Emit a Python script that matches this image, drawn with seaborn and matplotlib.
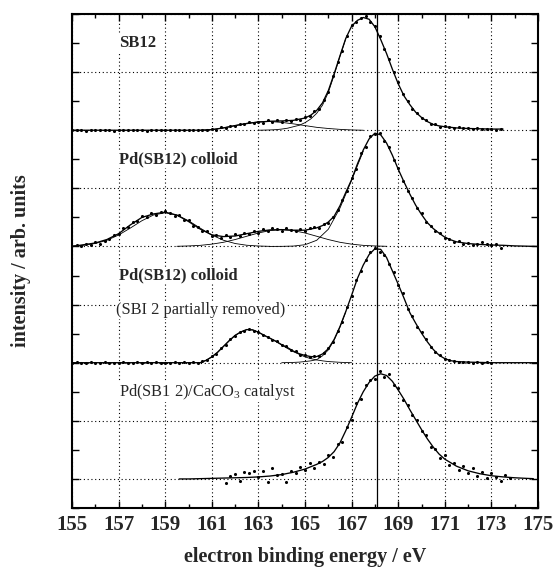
import numpy as np
import pandas as pd
import matplotlib
matplotlib.use("Agg")
import matplotlib.pyplot as plt
from matplotlib.ticker import FixedLocator, NullFormatter
import seaborn as sns

# ---------------- data ----------------
x_ticks = [155, 157, 159, 161, 163, 165, 167, 169, 171, 173, 175]
x_tick_labels = ["155", "157", "159", "161", "163", "165", "167", "169", "171", "173", "175"]
x_minor = [156, 158, 160, 162, 164, 166, 168, 170, 172, 174]
ref_line_x = 168.1

panel_offsets = [6, 4, 2, 0]
panel_labels = ["SB12", "Pd(SB12) colloid", "Pd(SB12) colloid",
                "Pd(SB1 2)/CaCO$_\\mathrm{3}$ catalyst"]
panel_label_bold = [True, True, True, False]
panel_label_y = [7.5, 5.5, 3.5, 1.5]
sub_label = "(SBI 2 partially removed)"
sub_label_y = 2.9
label_x = 157.0

point_step = 0.2
# --- panel 1 : SB12 ---
p1_start = 155.0
p1_points = [0.00, 0.01, 0.00, -0.01, 0.01,
             0.00, 0.01, 0.00, 0.00, -0.01,
             0.01, 0.00, 0.01, 0.00, 0.00,
             0.01, -0.01, 0.00, 0.01, 0.00,
             0.00, 0.01, 0.00, 0.01, 0.00,
             0.00, 0.01, 0.00, 0.01, 0.00,
             0.02, 0.01, 0.05, 0.04, 0.08,
             0.07, 0.11, 0.10, 0.14, 0.12,
             0.15, 0.13, 0.17, 0.15, 0.17,
             0.14, 0.18, 0.16, 0.19, 0.18,
             0.22, 0.24, 0.33, 0.36, 0.52,
             0.66, 0.93, 1.18, 1.37, 1.62,
             1.81, 1.86, 1.93, 1.96, 1.87,
             1.79, 1.62, 1.40, 1.23, 1.00,
             0.83, 0.62, 0.51, 0.37, 0.30,
             0.21, 0.17, 0.11, 0.10, 0.06,
             0.07, 0.05, 0.04, 0.05, 0.03,
             0.03, 0.02, 0.03, 0.02, 0.02,
             0.02, 0.01, 0.02]
p1_fit_x = [155.0, 160.5, 161.0, 161.5, 162.0, 162.5, 163.0, 163.5, 164.0, 164.5, 165.0,
            165.25, 165.5, 165.75, 166.0, 166.25, 166.5, 166.75, 167.0, 167.25, 167.5,
            167.75, 168.0, 168.25, 168.5, 168.75, 169.0, 169.25, 169.5, 169.75, 170.0,
            170.25, 170.5, 170.75, 171.0, 171.5, 172.0, 172.5, 173.0, 173.5]
p1_fit_y = [0.0, 0.0, 0.01, 0.04, 0.08, 0.115, 0.14, 0.155, 0.16, 0.17, 0.21,
            0.26, 0.34, 0.47, 0.68, 0.97, 1.28, 1.58, 1.79, 1.89, 1.94,
            1.91, 1.78, 1.56, 1.32, 1.05, 0.80, 0.59, 0.44, 0.31, 0.22,
            0.15, 0.10, 0.075, 0.06, 0.04, 0.03, 0.025, 0.02, 0.02]
p1_c1_x = [160.5, 161.0, 161.5, 162.0, 162.5, 163.0, 163.5, 164.0, 164.5, 165.0,
           165.5, 166.0, 166.5, 167.0, 167.5]
p1_c1_y = [0.0, 0.01, 0.04, 0.08, 0.12, 0.145, 0.15, 0.135, 0.11, 0.08,
           0.05, 0.03, 0.015, 0.005, 0.0]
p1_c2_x = [163.0, 163.5, 163.75, 164.0, 164.25, 164.5, 164.75, 165.0, 165.25, 165.5,
           165.75, 166.0, 166.25, 166.5, 166.75]
p1_c2_y = [0.0, 0.005, 0.01, 0.02, 0.035, 0.06, 0.085, 0.13, 0.195, 0.29,
           0.43, 0.65, 0.95, 1.27, 1.575]

# --- panel 2 : Pd(SB12) colloid ---
p2_start = 155.2
p2_points = [0.03, 0.00, 0.04, 0.02,
             0.07, 0.05, 0.10, 0.13, 0.19,
             0.21, 0.31, 0.33, 0.42, 0.44,
             0.52, 0.51, 0.57, 0.55, 0.60,
             0.61, 0.57, 0.53, 0.54, 0.46,
             0.45, 0.36, 0.34, 0.26, 0.27,
             0.18, 0.20, 0.15, 0.19, 0.16,
             0.21, 0.18, 0.23, 0.21, 0.26,
             0.24, 0.30, 0.26, 0.31, 0.30,
             0.27, 0.31, 0.28, 0.26, 0.30,
             0.27, 0.31, 0.33, 0.31, 0.38,
             0.41, 0.51, 0.63, 0.80, 0.96,
             1.18, 1.34, 1.60, 1.72, 1.90,
             1.93, 1.96, 1.82, 1.71, 1.49,
             1.35, 1.13, 0.96, 0.84, 0.66,
             0.57, 0.42, 0.36, 0.26, 0.23,
             0.14, 0.13, 0.08, 0.09, 0.05,
             0.06, 0.03, 0.05, 0.07, 0.04,
             0.03, 0.05, -0.02]
p2_fit_x = [155.0, 155.5, 156.0, 156.5, 157.0, 157.5, 158.0, 158.5, 159.0, 159.5, 160.0,
            160.5, 161.0, 161.5, 162.0, 162.5, 163.0, 163.5, 164.0, 164.5, 165.0, 165.5,
            165.75, 166.0, 166.25, 166.5, 166.75, 167.0, 167.25, 167.5, 167.75, 168.0,
            168.25, 168.5, 168.75, 169.0, 169.25, 169.5, 169.75, 170.0, 170.25, 170.5,
            170.75, 171.0, 171.25, 171.5, 172.0, 172.5, 173.0, 173.5, 174.0, 175.0]
p2_fit_y = [0.0, 0.03, 0.06, 0.12, 0.22, 0.37, 0.50, 0.56, 0.59, 0.54, 0.43,
            0.30, 0.20, 0.17, 0.18, 0.22, 0.26, 0.285, 0.29, 0.28, 0.28, 0.32,
            0.36, 0.42, 0.52, 0.70, 0.93, 1.15, 1.42, 1.66, 1.85, 1.95,
            1.92, 1.78, 1.57, 1.33, 1.11, 0.90, 0.71, 0.55, 0.41, 0.31,
            0.23, 0.16, 0.115, 0.08, 0.05, 0.035, 0.025, 0.02, 0.01, 0.0]
p2_c1_x = [155.0, 155.5, 156.0, 156.5, 157.0, 157.5, 158.0, 158.5, 159.0,
           159.5, 160.0, 160.5, 161.0, 161.5, 162.0, 162.5, 163.0, 163.5]
p2_c1_y = [0.008, 0.021, 0.051, 0.107, 0.197, 0.316, 0.443, 0.542, 0.58,
           0.542, 0.443, 0.316, 0.197, 0.107, 0.051, 0.021, 0.008, 0.002]
p2_c2_x = [159.5, 160.0, 160.5, 161.0, 161.5, 162.0, 162.5, 163.0, 163.5, 164.0,
           164.5, 165.0, 165.5, 166.0, 166.5, 167.0, 167.5, 168.0, 168.5]
p2_c2_y = [0.003, 0.009, 0.019, 0.040, 0.072, 0.119, 0.176, 0.232, 0.274, 0.29,
           0.274, 0.232, 0.176, 0.119, 0.072, 0.040, 0.019, 0.009, 0.003]
p2_c3_x = [163.5, 164.0, 164.5, 165.0, 165.5, 166.0, 166.5, 167.0, 167.5]
p2_c3_y = [0.001, 0.002, 0.007, 0.03, 0.106, 0.296, 0.66, 1.14, 1.64]

# --- panel 3 : Pd(SB12) colloid, SB12 partially removed ---
p3_start = 155.0
p3_points = [0.00, 0.01, 0.00, 0.00, 0.01,
             0.00, 0.00, 0.01, 0.00, -0.01,
             0.00, 0.01, 0.00, 0.00, 0.01,
             0.00, 0.01, 0.00, 0.01, 0.00,
             0.00, 0.00, 0.01, 0.00, 0.01,
             0.00, 0.01, 0.00, 0.03, 0.05,
             0.11, 0.15, 0.26, 0.31, 0.41,
             0.46, 0.53, 0.54, 0.58, 0.55,
             0.53, 0.47, 0.45, 0.39, 0.37,
             0.30, 0.28, 0.22, 0.20, 0.14,
             0.13, 0.10, 0.11, 0.12, 0.16,
             0.25, 0.36, 0.55, 0.70, 0.95,
             1.14, 1.42, 1.57, 1.77, 1.90,
             1.97, 1.90, 1.86, 1.69, 1.56,
             1.33, 1.20, 0.93, 0.80, 0.62,
             0.52, 0.40, 0.27, 0.19, 0.13,
             0.07, 0.05, 0.03, 0.02, 0.01,
             0.02, 0.00, 0.01, 0.00, 0.01,
             0.00]
p3_fit_x = [155.0, 160.5, 160.75, 161.0, 161.25, 161.5, 161.75, 162.0, 162.25, 162.5,
            162.75, 163.0, 163.25, 163.5, 163.75, 164.0, 164.25, 164.5, 164.75, 165.0,
            165.25, 165.5, 165.75, 166.0, 166.25, 166.5, 166.75, 167.0, 167.25, 167.5,
            167.75, 168.0, 168.25, 168.5, 168.75, 169.0, 169.25, 169.5, 169.75, 170.0,
            170.25, 170.5, 170.75, 171.0, 171.25, 171.5, 172.0, 172.5, 173.0, 175.0]
p3_fit_y = [0.0, 0.0, 0.04, 0.10, 0.18, 0.28, 0.38, 0.47, 0.53, 0.57,
            0.565, 0.525, 0.47, 0.42, 0.37, 0.31, 0.26, 0.20, 0.155, 0.125,
            0.105, 0.105, 0.15, 0.24, 0.40, 0.62, 0.88, 1.16, 1.45, 1.68,
            1.86, 1.96, 1.95, 1.81, 1.58, 1.35, 1.11, 0.86, 0.68, 0.51,
            0.36, 0.23, 0.13, 0.07, 0.035, 0.02, 0.01, 0.005, 0.0, 0.0]
p3_c1_x = [160.5, 160.75, 161.0, 161.25, 161.5, 161.75, 162.0, 162.25, 162.5, 162.75,
           163.0, 163.25, 163.5, 163.75, 164.0, 164.25, 164.5, 164.75, 165.0, 165.25,
           165.5, 165.75, 166.0, 166.5, 167.0]
p3_c1_y = [0.0, 0.04, 0.10, 0.18, 0.28, 0.38, 0.47, 0.53, 0.57, 0.565,
           0.525, 0.47, 0.42, 0.365, 0.305, 0.245, 0.19, 0.145, 0.10, 0.07,
           0.048, 0.032, 0.02, 0.007, 0.0]
p3_c2_x = [164.0, 164.5, 164.75, 165.0, 165.25, 165.5, 165.75, 166.0, 166.25, 166.5, 166.75]
p3_c2_y = [0.0, 0.005, 0.01, 0.02, 0.032, 0.052, 0.118, 0.22, 0.388, 0.613, 0.875]

# --- panel 4 : Pd(SB12)/CaCO3 catalyst ---
p4_start = 161.6
p4_points = [-0.07, 0.05,
             0.09, -0.04, 0.12, 0.10, 0.14,
             0.03, 0.13, -0.05, 0.18, 0.06,
             0.09, -0.05, 0.14, 0.10, 0.20,
             0.15, 0.27, 0.18, 0.30, 0.26,
             0.42, 0.38, 0.60, 0.63, 0.90,
             1.02, 1.30, 1.38, 1.62, 1.70,
             1.72, 1.85, 1.76, 1.80, 1.62,
             1.56, 1.36, 1.27, 1.10, 1.02,
             0.82, 0.75, 0.55, 0.52, 0.36,
             0.41, 0.24, 0.28, 0.15, 0.22,
             0.10, 0.18, 0.05, 0.12, 0.02,
             0.10, 0.04, -0.03, 0.06, 0.01]
p4_fit_x = [159.6, 160.0, 160.5, 161.0, 161.5, 162.0, 162.5, 163.0, 163.5, 164.0,
            164.5, 165.0, 165.5, 165.75, 166.0, 166.25, 166.5, 166.75, 167.0, 167.25,
            167.5, 167.75, 168.0, 168.25, 168.5, 168.75, 169.0, 169.25, 169.5, 169.75,
            170.0, 170.25, 170.5, 170.75, 171.0, 171.5, 172.0, 172.5, 173.0, 173.5,
            174.0, 174.5, 174.8]
p4_fit_y = [0.0, 0.0, 0.005, 0.01, 0.015, 0.02, 0.025, 0.035, 0.05, 0.075,
            0.115, 0.17, 0.25, 0.30, 0.37, 0.47, 0.62, 0.83, 1.06, 1.30,
            1.50, 1.66, 1.77, 1.81, 1.78, 1.68, 1.53, 1.37, 1.19, 1.02,
            0.85, 0.69, 0.55, 0.43, 0.34, 0.22, 0.14, 0.09, 0.055, 0.035,
            0.02, 0.01, 0.005]

# ---------------- assemble tables ----------------
points_sets = [(p1_start, p1_points), (p2_start, p2_points),
               (p3_start, p3_points), (p4_start, p4_points)]
fit_sets = [(p1_fit_x, p1_fit_y), (p2_fit_x, p2_fit_y),
            (p3_fit_x, p3_fit_y), (p4_fit_x, p4_fit_y)]
comp_sets = [[(p1_c1_x, p1_c1_y), (p1_c2_x, p1_c2_y)],
             [(p2_c1_x, p2_c1_y), (p2_c2_x, p2_c2_y), (p2_c3_x, p2_c3_y)],
             [(p3_c1_x, p3_c1_y), (p3_c2_x, p3_c2_y)],
             []]

pts_rows, fit_rows, comp_rows = [], [], []
for i, off in enumerate(panel_offsets):
    start, vals = points_sets[i]
    xs = np.round(start + point_step * np.arange(len(vals)), 2)
    for xv, yv in zip(xs, vals):
        pts_rows.append({"x": xv, "y": yv + off, "panel": i})
    fx, fy = fit_sets[i]
    for k, (xv, yv) in enumerate(zip(fx, fy)):
        fit_rows.append({"x": xv, "y": yv + off, "curve": f"fit{i}", "order": k})
    for j, (cx, cy) in enumerate(comp_sets[i]):
        for k, (xv, yv) in enumerate(zip(cx, cy)):
            comp_rows.append({"x": xv, "y": yv + off, "curve": f"c{i}{j}", "order": k})

pts = pd.DataFrame(pts_rows)
fits = pd.DataFrame(fit_rows)
comps = pd.DataFrame(comp_rows)

# ---------------- plotting ----------------
sns.set_theme(style="ticks")
plt.rcParams['font.family'] = ['Liberation Serif', 'DejaVu Serif']
plt.rcParams['mathtext.fontset'] = 'custom'
plt.rcParams['mathtext.rm'] = 'Liberation Serif'

fig = plt.figure(figsize=(5.56, 5.67), dpi=100)
ax = fig.add_axes([72 / 556, 1 - 508 / 567, (538 - 72) / 556, (508 - 14) / 567])

ax.set_xlim(155, 175)
ax.set_ylim(-0.5, 8)

ax.xaxis.set_major_locator(FixedLocator(x_ticks))
ax.xaxis.set_minor_locator(FixedLocator(x_minor))
ax.set_xticklabels(x_tick_labels)
ax.yaxis.set_major_locator(FixedLocator(list(range(0, 9))))
ax.yaxis.set_minor_locator(FixedLocator([k + 0.5 for k in range(-1, 8)]))
ax.yaxis.set_major_formatter(NullFormatter())

ax.grid(which='major', linestyle=(0, (1, 2.4)), color='black', linewidth=0.8, zorder=0)
ax.set_axisbelow(True)

ax.axvline(ref_line_x, color='black', linewidth=0.9, zorder=2)

sns.lineplot(data=comps, x="x", y="y", units="curve", estimator=None, sort=False,
             color='black', linewidth=0.6, ax=ax, legend=False, zorder=3)
sns.lineplot(data=fits, x="x", y="y", units="curve", estimator=None, sort=False,
             color='black', linewidth=0.95, ax=ax, legend=False, zorder=4)
sns.scatterplot(data=pts, x="x", y="y", color='black', s=5, linewidth=0,
                ax=ax, legend=False, zorder=5)

for lab, ly, bold in zip(panel_labels, panel_label_y, panel_label_bold):
    ax.text(label_x, ly, lab, ha='left', va='center',
            fontsize=12 if bold else 11.8, fontweight='bold' if bold else 'normal',
            bbox=dict(facecolor='white', edgecolor='none', pad=0.5), zorder=6)
ax.text(label_x - 0.1, sub_label_y, sub_label, ha='left', va='center', fontsize=11.8,
        bbox=dict(facecolor='white', edgecolor='none', pad=0.5), zorder=6)

for sp in ax.spines.values():
    sp.set_linewidth(1.5)
    sp.set_color('black')

ax.tick_params(axis='both', which='both', direction='in', top=True, right=True,
               color='black')
ax.tick_params(axis='x', which='major', length=5, width=1, pad=5, labelsize=15)
ax.tick_params(axis='x', which='minor', length=3, width=1)
ax.tick_params(axis='y', which='both', length=5, width=1)
for t in ax.get_xticklabels():
    t.set_fontweight('bold')

ax.set_xlabel("electron binding energy / eV", fontsize=14.5, fontweight='bold', labelpad=9)
ax.set_ylabel("intensity / arb. units", fontsize=14.5, fontweight='bold')
ax.yaxis.set_label_coords(-0.088, 0.5)

fig.savefig("out.png", dpi=100, facecolor='white')
